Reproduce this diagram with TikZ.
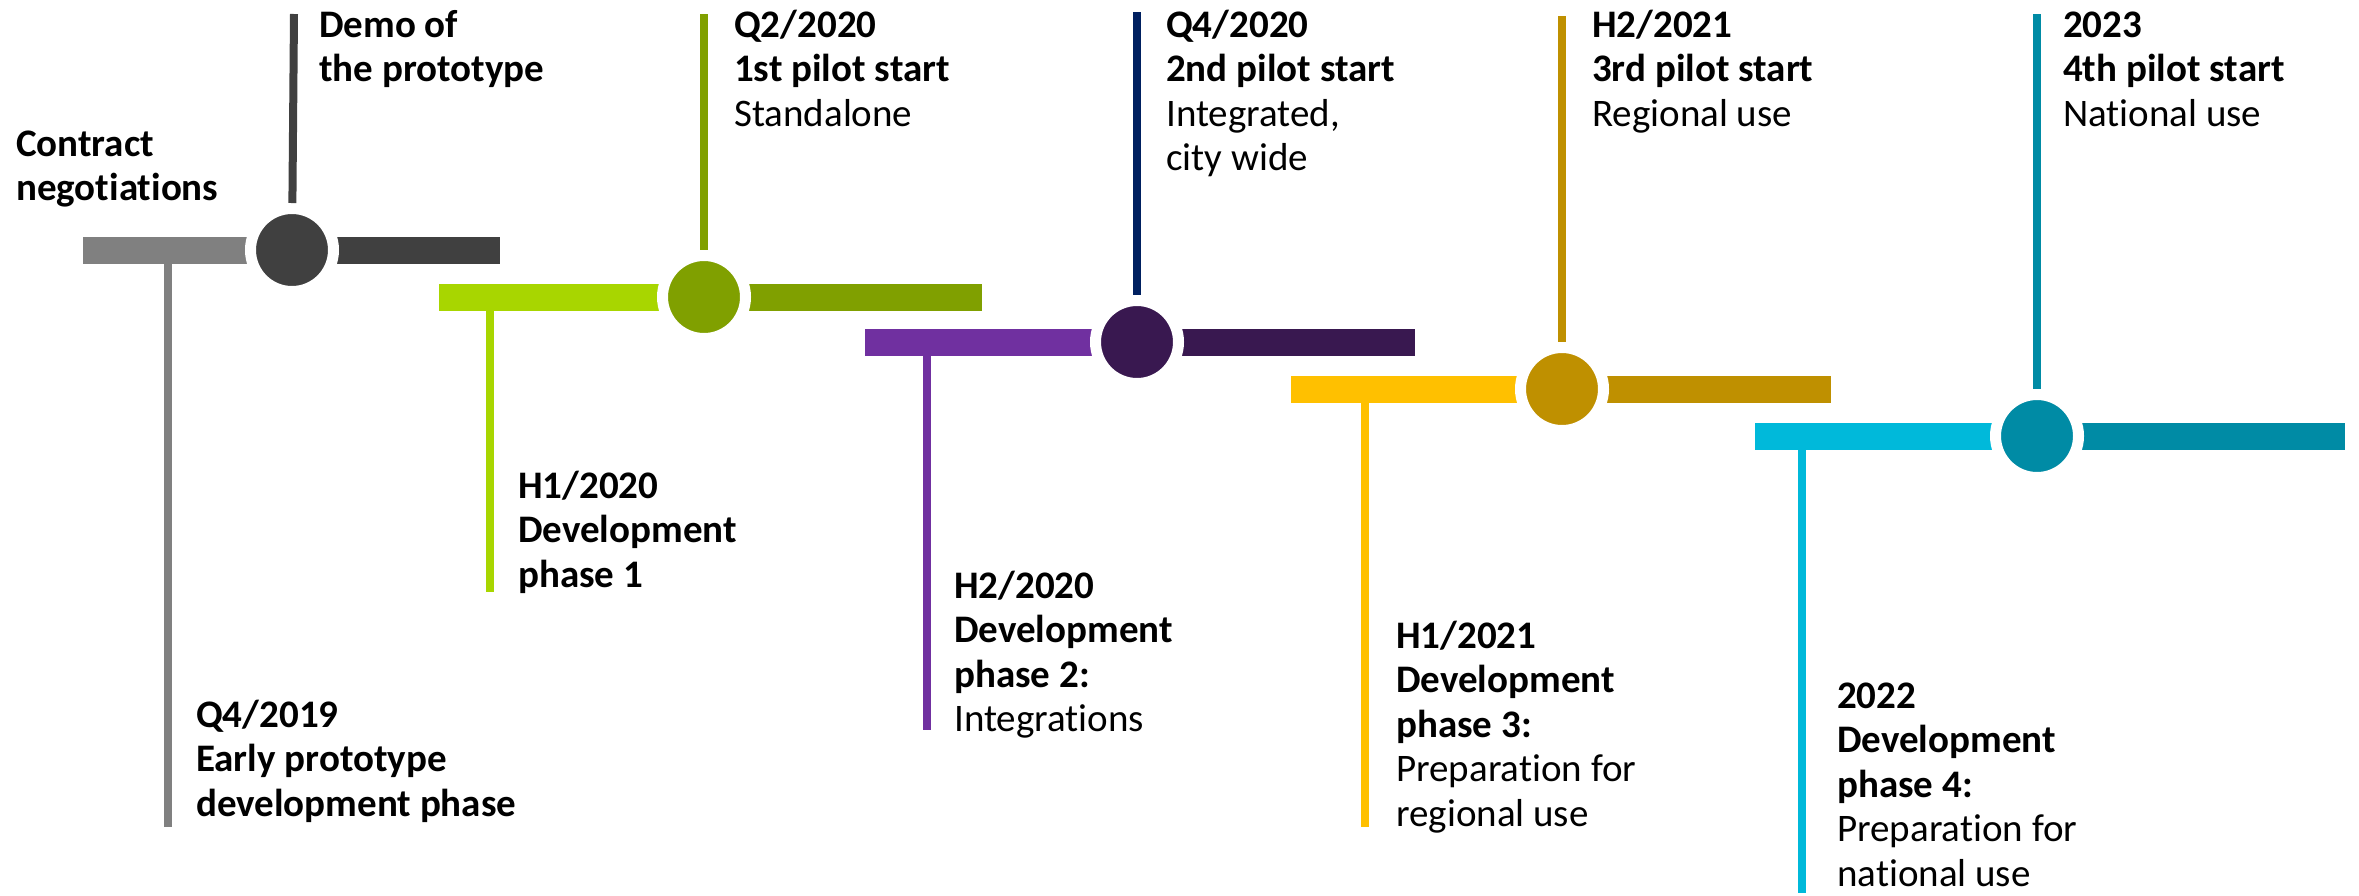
\documentclass[tikz,border=0pt]{standalone}
\usepackage{fontspec}
\setmainfont{Carlito}[Ligatures={NoCommon,NoRare}]
\definecolor{cgrey}{HTML}{808080}
\definecolor{cdgrey}{HTML}{404040}
\definecolor{clgreen}{HTML}{A8D600}
\definecolor{cdgreen}{HTML}{80A000}
\definecolor{cpurple}{HTML}{7030A0}
\definecolor{cdpurple}{HTML}{391850}
\definecolor{cnavy}{HTML}{002060}
\definecolor{cyellow}{HTML}{FFC000}
\definecolor{cgold}{HTML}{BF9000}
\definecolor{ccyan}{HTML}{00B9DA}
\definecolor{cteal}{HTML}{008BA5}
\tikzset{
  bar/.style={line width=27pt},
  stem/.style={line width=8pt},
  milestone/.style={circle, minimum size=83pt, inner sep=0pt, draw=white, line width=11pt},
  lbl/.style={anchor=base west, align=left, inner sep=0pt, font=\fontsize{39}{44.5}\selectfont\bfseries},
}
\begin{document}
\begin{tikzpicture}[x=1pt,y=-1pt]
\useasboundingbox (0,0) rectangle (2359,895);
% centres
\coordinate (c1) at (292,250);
\coordinate (c2) at (704,297);
\coordinate (c3) at (1137,342);
\coordinate (c4) at (1562,389);
\coordinate (c5) at (2037,436);
% bar ends
\coordinate (l1) at (83,250);   \coordinate (r1) at (500,250);
\coordinate (l2) at (439,297);  \coordinate (r2) at (982,297);
\coordinate (l3) at (865,342);  \coordinate (r3) at (1415,342);
\coordinate (l4) at (1291,389); \coordinate (r4) at (1831,389);
\coordinate (l5) at (1755,436); \coordinate (r5) at (2345,436);
% drop lines
\coordinate (d1a) at (168,250);  \coordinate (d1b) at (168,827);
\coordinate (d2a) at (490,297);  \coordinate (d2b) at (490,592);
\coordinate (d3a) at (927,342);  \coordinate (d3b) at (927,730);
\coordinate (d4a) at (1365,389); \coordinate (d4b) at (1365,827);
\coordinate (d5a) at (1802,436); \coordinate (d5b) at (1802,893);
% top line ends
\coordinate (t1) at (294,14);
\coordinate (t2) at (704,14);
\coordinate (t3) at (1137,12);
\coordinate (t4) at (1562,16);
\coordinate (t5) at (2037,14);

\draw[stem, cgrey] (d1a) -- (d1b);
\draw[stem, clgreen] (d2a) -- (d2b);
\draw[stem, cpurple] (d3a) -- (d3b);
\draw[stem, cyellow] (d4a) -- (d4b);
\draw[stem, ccyan] (d5a) -- (d5b);

\draw[bar, cgrey] (l1) -- (c1);   \draw[bar, cdgrey] (c1) -- (r1);
\draw[bar, clgreen] (l2) -- (c2); \draw[bar, cdgreen] (c2) -- (r2);
\draw[bar, cpurple] (l3) -- (c3); \draw[bar, cdpurple] (c3) -- (r3);
\draw[bar, cyellow] (l4) -- (c4); \draw[bar, cgold] (c4) -- (r4);
\draw[bar, ccyan] (l5) -- (c5);   \draw[bar, cteal] (c5) -- (r5);

\node[milestone, fill=cdgrey] (m1) at (c1) {};
\node[milestone, fill=cdgreen] (m2) at (c2) {};
\node[milestone, fill=cdpurple] (m3) at (c3) {};
\node[milestone, fill=cgold] (m4) at (c4) {};
\node[milestone, fill=cteal] (m5) at (c5) {};

\draw[stem, cdgrey] (t1) -- (m1);
\draw[stem, cdgreen] (t2) -- (m2);
\draw[stem, cnavy] (t3) -- (m3);
\draw[stem, cgold] (t4) -- (m4);
\draw[stem, cteal] (t5) -- (m5);

% anchors are at the baseline of the last line
\node[lbl] (a1) at (16,200.5) {Contract\\negotiations};
\node[lbl] (a2) at (319,81.5) {Demo of\\the prototype};
\node[lbl] (a3) at (196,816) {Q4/2019\\Early prototype\\development phase};
\node[lbl] (a4) at (734,126) {Q2/2020\\1st pilot start\\\textmd{Standalone}};
\node[lbl] (a5) at (518,587) {H1/2020\\Development\\phase 1};
\node[lbl] (a6) at (1166,170.5) {Q4/2020\\2nd pilot start\\\textmd{Integrated,}\\\textmd{city wide}};
\node[lbl] (a7) at (954,731.5) {H2/2020\\Development\\phase 2:\\\textmd{Integrations}};
\node[lbl] (a8) at (1592,126) {H2/2021\\3rd pilot start\\\textmd{Regional use}};
\node[lbl] (a9) at (1396,826) {H1/2021\\Development\\phase 3:\\\textmd{Preparation for}\\\textmd{regional use}};
\node[lbl] (a10) at (2063,126) {2023\\4th pilot start\\\textmd{National use}};
\node[lbl] (a11) at (1837,886) {2022\\Development\\phase 4:\\\textmd{Preparation for}\\\textmd{national use}};
\end{tikzpicture}
\end{document}
